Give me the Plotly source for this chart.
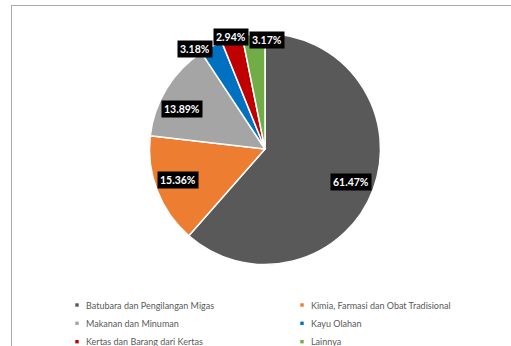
import math
import plotly.graph_objects as go

# Share of industry sectors (%)
categories = [
    "Batubara dan Pengilangan Migas",
    "Kimia, Farmasi dan Obat Tradisional",
    "Makanan dan Minuman",
    "Kayu Olahan",
    "Kertas dan Barang dari Kertas",
    "Lainnya",
]
shares = [61.47, 15.36, 13.89, 3.18, 2.94, 3.17]
colors = ["#595959", "#ED7D31", "#A5A5A5", "#0070C0", "#C00000", "#70AD47"]

# Label placement: radial factor (of pie radius) and angular nudge in degrees
label_radius = [0.80, 0.80, 0.80, 1.056, 1.013, 0.94]
label_nudge = [0.0, 1.5, -6.0, -7.5, 0.0, 6.8]

W, H = 511, 346
CX, CY, R = 265.0, 149.0, 115.5  # pie centre and radius in pixels


def px(x):
    return x / W


def py(y):
    return 1 - y / H


fig = go.Figure()
fig.add_trace(go.Pie(
    labels=categories,
    values=shares,
    marker=dict(colors=colors, line=dict(color="white", width=1.5)),
    sort=False,
    direction="clockwise",
    rotation=0,
    textinfo="none",
    hoverinfo="label+percent",
    showlegend=False,
    domain=dict(x=[px(CX - R), px(CX + R)], y=[py(CY + R), py(CY - R)]),
))

annotations = []
shapes = []

# Percentage labels in black boxes
total = sum(shares)
cum = 0.0
for i, v in enumerate(shares):
    mid = (cum + v / 2) / total * 360.0 + label_nudge[i]
    cum += v
    r = R * label_radius[i]
    lx = CX + r * math.sin(math.radians(mid))
    ly = CY - r * math.cos(math.radians(mid))
    annotations.append(dict(
        x=px(lx), y=py(ly), xref="paper", yref="paper",
        text=f"<b>{v:.2f}%</b>", showarrow=False,
        font=dict(family="Lato", size=10.5, color="white"),
        bgcolor="black", borderpad=2,
        xanchor="center", yanchor="middle",
    ))

# Two-column legend
col_x = [77.0, 302.0]
row_y = [305.0, 323.3, 341.7]
for i, (name, c) in enumerate(zip(categories, colors)):
    mx = col_x[i % 2]
    my = row_y[i // 2]
    shapes.append(dict(
        type="rect", xref="paper", yref="paper",
        x0=px(mx - 1.7), x1=px(mx + 1.7), y0=py(my + 1.7), y1=py(my - 1.7),
        fillcolor=c, line=dict(width=0),
    ))
    annotations.append(dict(
        x=px(mx + 6.5), y=py(my), xref="paper", yref="paper",
        text=name, showarrow=False,
        font=dict(family="Lato", size=9, color="#595959"),
        xanchor="left", yanchor="middle",
    ))

# Frame lines along the top and left edges
shapes.append(dict(type="line", xref="paper", yref="paper",
                   x0=px(11), x1=1, y0=py(5.5), y1=py(5.5),
                   line=dict(color="#ABABAB", width=1)))
shapes.append(dict(type="line", xref="paper", yref="paper",
                   x0=px(11.5), x1=px(11.5), y0=py(5.5), y1=0,
                   line=dict(color="#ABABAB", width=1)))

fig.update_layout(
    width=W, height=H,
    margin=dict(l=0, r=0, t=0, b=0),
    paper_bgcolor="white",
    plot_bgcolor="white",
    annotations=annotations,
    shapes=shapes,
)

fig.write_html("out.html")
